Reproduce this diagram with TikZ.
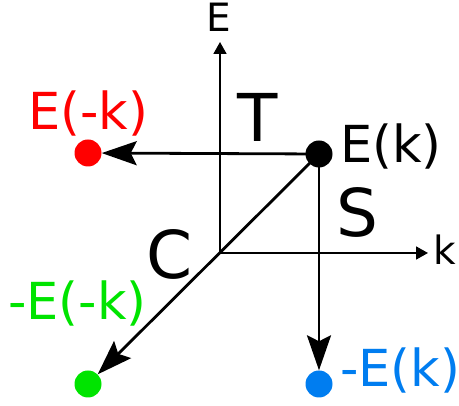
\documentclass[tikz,border=0pt]{standalone}
\usepackage{fontspec}
\setmainfont{DejaVu Sans}
\usetikzlibrary{arrows.meta}
\definecolor{cred}{RGB}{255,0,0}
\definecolor{cgreen}{RGB}{0,228,0}
\definecolor{cblue}{RGB}{0,125,240}
\begin{document}
\begin{tikzpicture}[x=1pt,y=-1pt,
  axisline/.style={line width=1.8pt,-{Triangle[length=12pt,width=13pt]}},
  bigarrow/.style={line width=2.8pt,-{Stealth[length=35pt,width=24pt,inset=6pt]},shorten >=0pt},
  dot/.style={circle,minimum size=27pt,inner sep=0pt},
  lab/.style={inner sep=0pt,anchor=base west,font=\fontsize{51}{51}\selectfont},
  axlab/.style={inner sep=0pt,anchor=base west,font=\fontsize{39}{39}\selectfont},
  biglab/.style={inner sep=0pt,anchor=base west,font=\fontsize{66}{66}\selectfont}]
\useasboundingbox (0,0) rectangle (459,406);
\coordinate (o) at (220,253);
\coordinate (etip) at (220,42);
\coordinate (ktip) at (428,253);
\draw[axisline] (o) -- (etip);
\draw[axisline] (o) -- (ktip);
\node[axlab] (elab) at (206,32) {E};
\node[axlab] (klab) at (433.5,265) {k};
\node[dot,fill=cred] (emk) at (88,153) {};
\node[dot,fill=cgreen] (memk) at (88,384) {};
\node[dot,fill=cblue] (mek) at (319,384) {};
\draw[bigarrow] (319,154) -- (emk);
\draw[bigarrow] (319,154) -- (memk);
\draw[bigarrow] (319,154) -- (mek);
\node[dot,fill=black] (ek) at (319,154) {};
\node[lab] (ekl) at (340,163) {E(k)};
\node[lab,text=cred] (emkl) at (28,130) {E(-k)};
\node[lab,text=cgreen] (memkl) at (8,320) {-E(-k)};
\node[lab,text=cblue] (mekl) at (340,387) {-E(k)};
\node[biglab] (t) at (237,142) {T};
\node[biglab] (s) at (336,237) {S};
\node[biglab] (c) at (146,279) {C};
\end{tikzpicture}
\end{document}
